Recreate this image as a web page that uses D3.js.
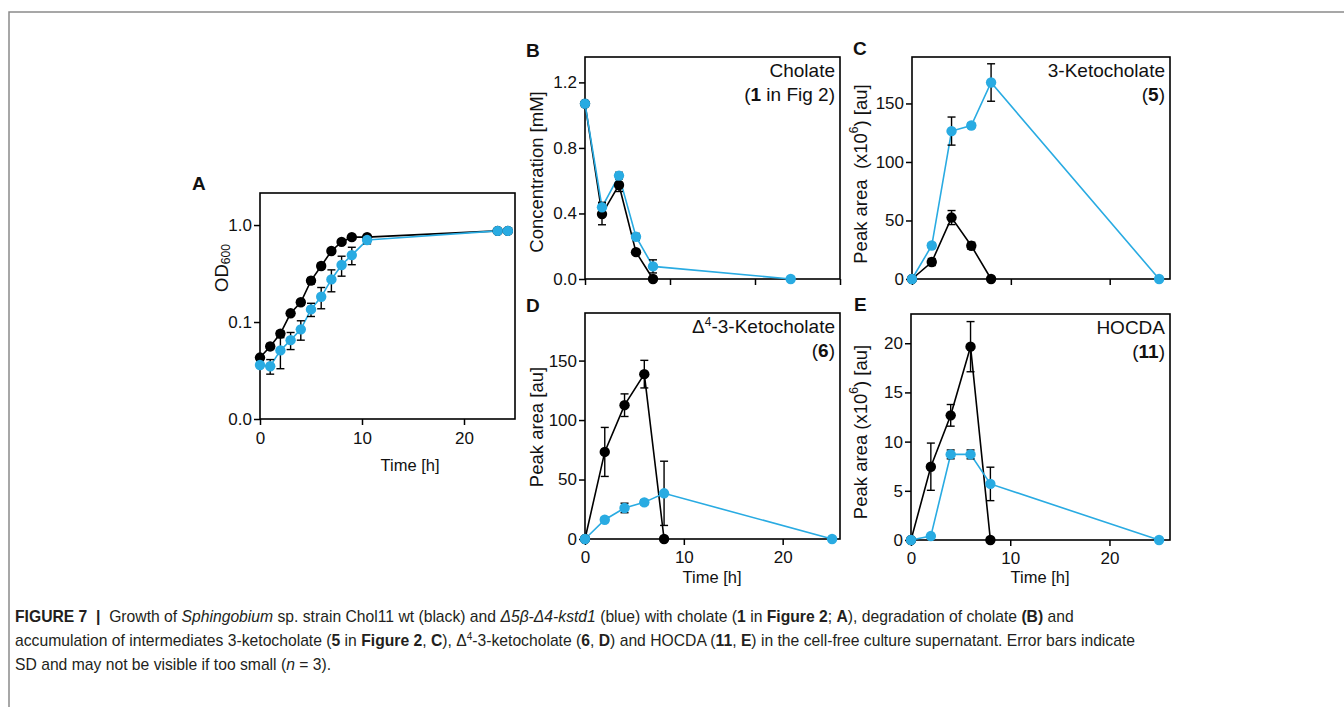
<!DOCTYPE html>
<html>
<head>
<meta charset="utf-8">
<script src="https://cdn.jsdelivr.net/npm/d3@7.9.0/dist/d3.min.js"></script>
<style>
  html, body { margin: 0; padding: 0; background: #fff; }
  svg { display: block; font-family: "Liberation Sans", Arial, sans-serif; }
</style>
</head>
<body>
<svg id="fig" width="1344" height="707"></svg>
<script>
// Panel A: growth (OD600), log scale
const timeA = [0, 1, 2, 3, 4, 5, 6, 7, 8, 9, 10.5, 23.3, 24.3];
const odWt = [0.043, 0.056, 0.076, 0.123, 0.16, 0.267, 0.378, 0.54, 0.67, 0.75, 0.75, 0.87, 0.87];
const odWtSd = [0.002, 0.004, 0.005, 0.006, 0.01, 0.02, 0.025, 0.03, 0.03, 0.02, 0.02, 0.01, 0.01];
const odMut = [0.036, 0.035, 0.051, 0.065, 0.084, 0.135, 0.182, 0.275, 0.387, 0.49, 0.70, 0.87, 0.87];
const odMutSd = [0.002, 0.006, 0.018, 0.013, 0.019, 0.021, 0.045, 0.07, 0.09, 0.1, 0.06, 0.01, 0.01];

// Panel B: cholate concentration [mM]
const timeBWt = [0, 2, 4, 6, 8];
const timeBMut = [0, 2, 4, 6, 8, 24.2];
const cholWt = [1.07, 0.396, 0.574, 0.164, 0.0];
const cholWtSd = [0.01, 0.065, 0.04, 0.01, 0.0];
const cholMut = [1.07, 0.438, 0.631, 0.258, 0.077, 0.0];
const cholMutSd = [0.01, 0.03, 0.02, 0.02, 0.04, 0.0];

// Panels C-E share sampling times
const timeWt = [0, 2, 4, 6, 8];
const timeMut = [0, 2, 4, 6, 8, 25];

// Panel C: 3-ketocholate
const ketoWt = [0, 14.5, 52.5, 28.4, 0];
const ketoWtSd = [0, 3, 6, 3, 0];
const ketoMut = [0, 28.6, 126.4, 131.2, 167.9, 0];
const ketoMutSd = [0, 2, 12, 2, 16, 0];

// Panel D: delta4-3-ketocholate
const delta4Wt = [0, 73.2, 112.5, 138.6, 0];
const delta4WtSd = [0, 20.6, 9.5, 11.6, 0];
const delta4Mut = [0, 16.2, 26.1, 30.8, 38.4, 0];
const delta4MutSd = [0, 2, 4, 2, 27, 0];

// Panel E: HOCDA
const hocdaWt = [0, 7.45, 12.67, 19.65, 0];
const hocdaWtSd = [0, 2.4, 1.1, 2.55, 0];
const hocdaMut = [0, 0.4, 8.7, 8.7, 5.7, 0];
const hocdaMutSd = [0, 0.1, 0.45, 0.45, 1.7, 0];

// tick values
const ticksA = [0.01, 0.1, 1];
const tickLabelsA = ['0.0', '0.1', '1.0'];
const ticksB = [0, 0.4, 0.8, 1.2];
const ticksCD = [0, 50, 100, 150];
const ticksE = [0, 5, 10, 15, 20];
const timeTicks = [0, 10, 20];

const BLUE = '#29abe2';
const svg = d3.select('#fig');

// outer frame
svg.append('path')
  .attr('d', 'M1344,12H9V707')
  .attr('fill', 'none')
  .attr('stroke', '#8a8a8a')
  .attr('stroke-width', 1.5);

function zip(t, v, s) {
  return t.map((d, i) => ({ t: d, v: v[i], sd: s[i] }));
}

function drawPanel(cfg) {
  const g = svg.append('g');
  const x = d3.scaleLinear().domain([0, cfg.xMax]).range([cfg.left, cfg.right]);
  const y = cfg.log
    ? d3.scaleLog().domain(cfg.yDomain).range([cfg.bottom, cfg.top])
    : d3.scaleLinear().domain(cfg.yDomain).range([cfg.bottom, cfg.top]);

  // axes
  const xAxis = d3.axisBottom(x).tickValues(cfg.xTicks).tickSize(6).tickPadding(4)
    .tickFormat(cfg.xLabels ? d3.format('d') : () => '');
  const gx = g.append('g').attr('transform', `translate(0,${cfg.bottom})`).call(xAxis);
  const yAxis = d3.axisLeft(y).tickValues(cfg.yTicks).tickSize(6).tickPadding(2)
    .tickFormat((d, i) => cfg.yTickLabels ? cfg.yTickLabels[i] : d3.format(cfg.yFmt)(d));
  const gy = g.append('g').attr('transform', `translate(${cfg.left},0)`).call(yAxis);
  [gx, gy].forEach(a => {
    a.select('.domain').remove();
    a.selectAll('line').attr('stroke', '#000').attr('stroke-width', 1.5);
    a.selectAll('text').attr('font-size', 17).attr('fill', '#111')
      .attr('font-family', '"Liberation Sans", Arial, sans-serif');
  });
  gx.selectAll('text').attr('dy', cfg.xTickDy);

  g.append('rect')
    .attr('x', cfg.left).attr('y', cfg.top)
    .attr('width', cfg.right - cfg.left).attr('height', cfg.bottom - cfg.top)
    .attr('fill', 'none').attr('stroke', '#000').attr('stroke-width', 1.6);

  const line = d3.line().x(d => x(d.t)).y(d => y(d.v));
  const series = [
    { data: zip(cfg.tWt, cfg.wt, cfg.wtSd), color: '#000' },
    { data: zip(cfg.tMut, cfg.mut, cfg.mutSd), color: BLUE }
  ];
  const yMin = cfg.yDomain[0];

  series.forEach(s => {
    g.append('path').datum(s.data)
      .attr('d', line).attr('fill', 'none')
      .attr('stroke', s.color).attr('stroke-width', 1.6);
  });
  series.forEach(s => {
    const eb = g.append('g').attr('stroke', '#000').attr('stroke-width', 1.4);
    s.data.filter(d => d.sd > 0).forEach(d => {
      const y1 = y(Math.max(yMin, d.v - d.sd));
      const y2 = y(d.v + d.sd);
      const cx = x(d.t);
      eb.append('line').attr('x1', cx).attr('x2', cx).attr('y1', y1).attr('y2', y2);
      eb.append('line').attr('x1', cx - 4).attr('x2', cx + 4).attr('y1', y1).attr('y2', y1);
      eb.append('line').attr('x1', cx - 4).attr('x2', cx + 4).attr('y1', y2).attr('y2', y2);
    });
  });
  series.forEach(s => {
    g.selectAll(null).data(s.data).enter().append('circle')
      .attr('cx', d => x(d.t)).attr('cy', d => y(d.v)).attr('r', 5.2)
      .attr('fill', s.color);
  });

  // panel letter
  g.append('text').attr('x', cfg.letter[0]).attr('y', cfg.letter[1])
    .attr('font-size', 19).attr('font-weight', 'bold').attr('fill', '#111')
    .text(cfg.name);

  // y label
  const yl = g.append('text')
    .attr('transform', `translate(${cfg.yLabelPos[0]},${cfg.yLabelPos[1]}) rotate(-90)`)
    .attr('text-anchor', 'middle').attr('dominant-baseline', 'central')
    .attr('font-size', 18.5).attr('fill', '#111');
  cfg.yLabel.forEach(p => {
    const ts = yl.append('tspan').text(p.s);
    if (p.sub) ts.attr('font-size', 12).attr('dy', 5);
    if (p.sup) ts.attr('font-size', 12).attr('baseline-shift', '6');
  });

  // x label
  if (cfg.xLabelPos) {
    g.append('text').attr('x', cfg.xLabelPos[0]).attr('y', cfg.xLabelPos[1])
      .attr('text-anchor', 'middle').attr('font-size', 16.5).attr('fill', '#111')
      .text('Time [h]');
  }

  // compound annotation
  cfg.note.forEach((ln, i) => {
    const t = g.append('text').attr('x', cfg.right - 5).attr('y', cfg.top + 20 + i * 24)
      .attr('text-anchor', 'end').attr('font-size', 19).attr('fill', '#111');
    ln.forEach(p => {
      const ts = t.append('tspan').text(p.s);
      if (p.b) ts.attr('font-weight', 'bold');
      if (p.sup) ts.attr('font-size', 12).attr('baseline-shift', '7');
    });
  });
}

drawPanel({
  name: 'A', letter: [192, 190], left: 260, right: 515, top: 193, bottom: 419,
  xMax: 25, xTicks: timeTicks, xLabels: true, xTickDy: '0.9em',
  log: true, yDomain: [0.01, 2.14], yTicks: ticksA, yTickLabels: tickLabelsA,
  tWt: timeA, wt: odWt, wtSd: odWtSd, tMut: timeA, mut: odMut, mutSd: odMutSd,
  yLabel: [{ s: 'OD' }, { s: '600', sub: true }], yLabelPos: [221, 268],
  xLabelPos: [410, 471], note: []
});

drawPanel({
  name: 'B', letter: [526, 57], left: 585, right: 840, top: 57, bottom: 279,
  xMax: 30, xTicks: [0, 10, 20, 30], xLabels: false, xTickDy: '0.71em',
  log: false, yDomain: [0, 1.355], yTicks: ticksB, yFmt: '.1f',
  tWt: timeBWt, wt: cholWt, wtSd: cholWtSd, tMut: timeBMut, mut: cholMut, mutSd: cholMutSd,
  yLabel: [{ s: 'Concentration [mM]' }], yLabelPos: [536, 172],
  note: [[{ s: 'Cholate' }], [{ s: '(' }, { s: '1', b: true }, { s: ' in Fig 2)' }]]
});

drawPanel({
  name: 'C', letter: [853, 55], left: 912, right: 1170, top: 57, bottom: 279,
  xMax: 26.1, xTicks: timeTicks, xLabels: false, xTickDy: '0.71em',
  log: false, yDomain: [0, 189.7], yTicks: ticksCD, yFmt: 'd',
  tWt: timeWt, wt: ketoWt, wtSd: ketoWtSd, tMut: timeMut, mut: ketoMut, mutSd: ketoMutSd,
  yLabel: [{ s: 'Peak area\u00a0 (x10' }, { s: '6', sup: true }, { s: ') [au]' }], yLabelPos: [860, 174],
  note: [[{ s: '3-Ketocholate' }], [{ s: '(' }, { s: '5', b: true }, { s: ')' }]]
});

drawPanel({
  name: 'D', letter: [526, 312], left: 585, right: 840, top: 313, bottom: 539,
  xMax: 25.8, xTicks: timeTicks, xLabels: true, xTickDy: '0.8em',
  log: false, yDomain: [0, 190], yTicks: ticksCD, yFmt: 'd',
  tWt: timeWt, wt: delta4Wt, wtSd: delta4WtSd, tMut: timeMut, mut: delta4Mut, mutSd: delta4MutSd,
  yLabel: [{ s: 'Peak area [au]' }], yLabelPos: [536, 427],
  xLabelPos: [712, 583],
  note: [[{ s: '\u0394' }, { s: '4', sup: true }, { s: '-3-Ketocholate' }], [{ s: '(' }, { s: '6', b: true }, { s: ')' }]]
});

drawPanel({
  name: 'E', letter: [854, 311], left: 911, right: 1170, top: 314, bottom: 540,
  xMax: 26.1, xTicks: timeTicks, xLabels: true, xTickDy: '0.8em',
  log: false, yDomain: [0, 22.97], yTicks: ticksE, yFmt: 'd',
  tWt: timeWt, wt: hocdaWt, wtSd: hocdaWtSd, tMut: timeMut, mut: hocdaMut, mutSd: hocdaMutSd,
  yLabel: [{ s: 'Peak area (x10' }, { s: '6', sup: true }, { s: ') [au]' }], yLabelPos: [860, 432],
  xLabelPos: [1040, 583],
  note: [[{ s: 'HOCDA' }], [{ s: '(' }, { s: '11', b: true }, { s: ')' }]]
});

// caption
const caption = [
  [{ s: 'FIGURE 7  |  ', b: true }, { s: 'Growth of ' }, { s: 'Sphingobium', i: true },
   { s: ' sp. strain Chol11 wt (black) and ' }, { s: '\u03945\u03b2-\u03944-kstd1', i: true },
   { s: ' (blue) with cholate (' }, { s: '1', b: true }, { s: ' in ' }, { s: 'Figure 2', b: true },
   { s: '; ' }, { s: 'A', b: true }, { s: '), degradation of cholate ' }, { s: '(B)', b: true }, { s: ' and' }],
  [{ s: 'accumulation of intermediates 3-ketocholate (' }, { s: '5', b: true }, { s: ' in ' },
   { s: 'Figure 2', b: true }, { s: ', ' }, { s: 'C', b: true }, { s: '), \u0394' }, { s: '4', sup: true },
   { s: '-3-ketocholate (' }, { s: '6', b: true }, { s: ', ' }, { s: 'D', b: true }, { s: ') and HOCDA (' },
   { s: '11', b: true }, { s: ', ' }, { s: 'E', b: true },
   { s: ') in the cell-free culture supernatant. Error bars indicate' }],
  [{ s: 'SD and may not be visible if too small (' }, { s: 'n', i: true }, { s: ' = 3).' }]
];
caption.forEach((ln, i) => {
  const t = svg.append('text').attr('x', 15).attr('y', 622 + i * 24)
    .attr('font-size', 15.7).attr('fill', '#231f20').attr('xml:space', 'preserve')
    .style('white-space', 'pre');
  ln.forEach(p => {
    const ts = t.append('tspan').text(p.s);
    if (p.b) ts.attr('font-weight', 'bold');
    if (p.i) ts.attr('font-style', 'italic');
    if (p.sup) ts.attr('font-size', 10).attr('baseline-shift', '6');
  });
});
</script>
</body>
</html>
